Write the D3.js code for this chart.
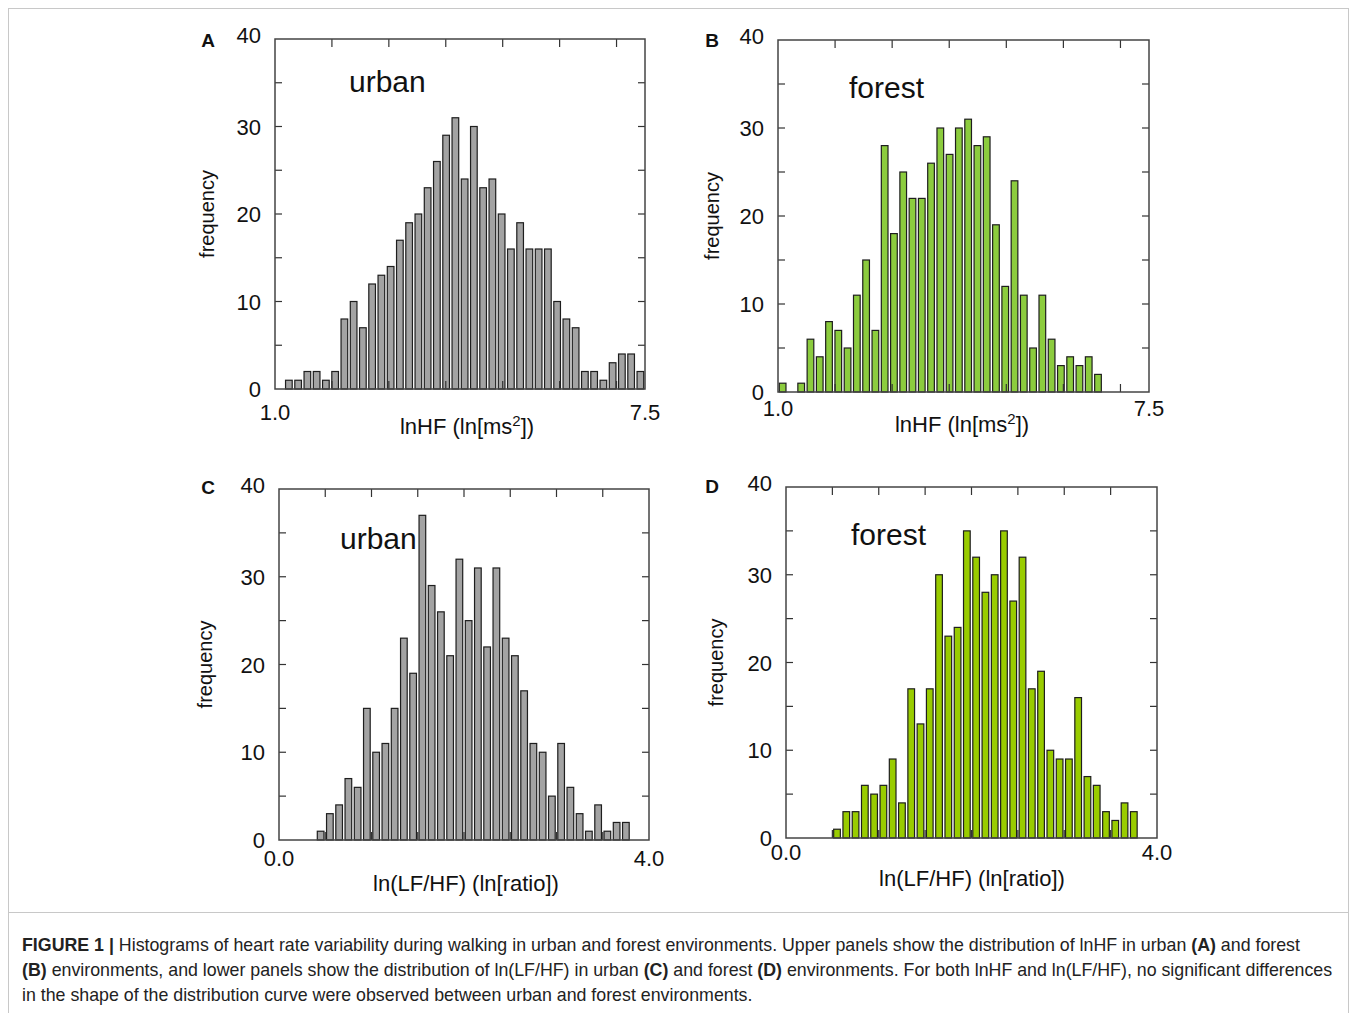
<!DOCTYPE html>
<html>
<head>
<meta charset="utf-8">
<script src="https://cdn.jsdelivr.net/npm/d3@7"></script>
<style>
  body { margin: 0; background: #fff; }
  svg text { font-family: "Liberation Sans", Arial, sans-serif; }
</style>
</head>
<body>
<div id="figure"></div>
<script>
// Section 1: the data, counts per bin (40 bins per panel)
var urbanHF = [0, 1, 1, 2, 2, 1, 2, 8, 10, 7, 12, 13, 14, 17, 19, 20, 23, 26, 29, 31,
  24, 30, 23, 24, 20, 16, 19, 16, 16, 16, 10, 8, 7, 2, 2, 1, 3, 4, 4, 2];
var forestHF = [1, 0, 1, 6, 4, 8, 7, 5, 11, 15, 7, 28, 18, 25, 22, 22, 26, 30, 27, 30,
  31, 28, 29, 19, 12, 24, 11, 5, 11, 6, 3, 4, 3, 4, 2, 0, 0, 0, 0, 0];
var urbanLFHF = [0, 0, 0, 0, 1, 3, 4, 7, 6, 15, 10, 11, 15, 23, 19, 37, 29, 26, 21, 32,
  25, 31, 22, 31, 23, 21, 17, 11, 10, 5, 11, 6, 3, 1, 4, 1, 2, 2, 0, 0];
var forestLFHF = [0, 0, 0, 0, 0, 1, 3, 3, 6, 5, 6, 9, 4, 17, 13, 17, 30, 23, 24, 35,
  32, 28, 30, 35, 27, 32, 17, 19, 10, 9, 9, 16, 7, 6, 3, 2, 4, 3, 0, 0];

var hfRange = [1.0, 7.5];
var lfhfRange = [0.0, 4.0];
var hfTicks = [2, 3, 4, 5, 6, 7];
var lfhfTicks = [0.5, 1, 1.5, 2, 2.5, 3, 3.5];
var yTickLabels = [0, 10, 20, 30, 40];
var yTickMarks = [5, 10, 15, 20, 25, 30, 35];

var width = 1355;
var height = 1013;

var svg = d3
  .select("#figure")
  .append("svg")
  .attr("width", width)
  .attr("height", height);

// outer box + caption divider
svg.append("rect")
  .attr("x", 8.5).attr("y", 8.5)
  .attr("width", 1340).attr("height", 1010)
  .attr("fill", "none").attr("stroke", "#c8c8c8").attr("stroke-width", 1);
svg.append("line")
  .attr("x1", 8.5).attr("x2", 1348.5)
  .attr("y1", 912.5).attr("y2", 912.5)
  .attr("stroke", "#c8c8c8").attr("stroke-width", 1);

// panel layout (frame box, label offsets)
var panels = [
  { letter: "A", data: urbanHF, domain: hfRange, ticks: hfTicks, fill: "#a3a3a3",
    box: [275, 39, 645, 389], title: "urban", titlePos: [349, 92],
    xlab: "lnHF (ln[ms", sup: true, xlabPos: [467, 434], tickOff: 31, letterPos: [208, 47], freqX: 207 },
  { letter: "B", data: forestHF, domain: hfRange, ticks: hfTicks, fill: "#8ccc3e",
    box: [778, 40, 1149, 392], title: "forest", titlePos: [849, 98],
    xlab: "lnHF (ln[ms", sup: true, xlabPos: [962, 432], tickOff: 24, letterPos: [712, 47], freqX: 712 },
  { letter: "C", data: urbanLFHF, domain: lfhfRange, ticks: lfhfTicks, fill: "#a3a3a3",
    box: [279, 489, 649, 840], title: "urban", titlePos: [340, 549],
    xlab: "ln(LF/HF) (ln[ratio])", sup: false, xlabPos: [466, 891], tickOff: 26, letterPos: [208, 494], freqX: 205 },
  { letter: "D", data: forestLFHF, domain: lfhfRange, ticks: lfhfTicks, fill: "#99cc00",
    box: [786, 487, 1157, 838], title: "forest", titlePos: [851, 545],
    xlab: "ln(LF/HF) (ln[ratio])", sup: false, xlabPos: [972, 886], tickOff: 22, letterPos: [712, 493], freqX: 716 }
];

panels.forEach(function(p) {
  var x0 = p.box[0], y0 = p.box[1], x1 = p.box[2], y1 = p.box[3];
  var g = svg.append("g");

  var xScale = d3.scaleLinear().domain(p.domain).range([x0, x1]);
  var yScale = d3.scaleLinear().domain([0, 40]).range([y1, y0]);
  var binW = (p.domain[1] - p.domain[0]) / p.data.length;

  // Bars
  var bins = p.data.map(function(v, i) {
    return { x: p.domain[0] + i * binW, v: v };
  }).filter(function(d) { return d.v > 0; });

  var pxW = xScale(p.domain[0] + binW) - xScale(p.domain[0]);
  var barW = pxW * 0.72;

  g.selectAll("rect.bar")
    .data(bins)
    .enter()
    .append("rect")
    .attr("class", "bar")
    .attr("x", function(d) { return xScale(d.x) + (pxW - barW) / 2; })
    .attr("y", function(d) { return yScale(d.v); })
    .attr("width", barW)
    .attr("height", function(d) { return yScale(0) - yScale(d.v); })
    .attr("fill", p.fill)
    .attr("stroke", "#1e1e1e")
    .attr("stroke-width", 1.2);

  // Ticks pointing inward: x on top/bottom, y on left/right
  var tickCol = "#333";
  p.ticks.forEach(function(t) {
    g.append("line")
      .attr("x1", xScale(t)).attr("x2", xScale(t))
      .attr("y1", y0).attr("y2", y0 + 8)
      .attr("stroke", tickCol).attr("stroke-width", 1.2);
    g.append("line")
      .attr("x1", xScale(t)).attr("x2", xScale(t))
      .attr("y1", y1).attr("y2", y1 - 8)
      .attr("stroke", tickCol).attr("stroke-width", 1.2);
  });
  yTickMarks.forEach(function(t) {
    g.append("line")
      .attr("x1", x0).attr("x2", x0 + 7)
      .attr("y1", yScale(t)).attr("y2", yScale(t))
      .attr("stroke", tickCol).attr("stroke-width", 1.2);
    g.append("line")
      .attr("x1", x1).attr("x2", x1 - 7)
      .attr("y1", yScale(t)).attr("y2", yScale(t))
      .attr("stroke", tickCol).attr("stroke-width", 1.2);
  });

  // frame
  g.append("rect")
    .attr("x", x0).attr("y", y0)
    .attr("width", x1 - x0).attr("height", y1 - y0)
    .attr("fill", "none")
    .attr("stroke", "#444")
    .attr("stroke-width", 1.5);

  // y tick labels
  yTickLabels.forEach(function(t) {
    g.append("text")
      .attr("x", x0 - 14)
      .attr("y", yScale(t) + (t === 40 ? 4 : 8))
      .attr("text-anchor", "end")
      .attr("font-size", 22)
      .attr("fill", "#111")
      .text(t);
  });

  // x end labels only
  p.domain.forEach(function(t) {
    g.append("text")
      .attr("x", xScale(t))
      .attr("y", y1 + p.tickOff)
      .attr("text-anchor", "middle")
      .attr("font-size", 22)
      .attr("fill", "#111")
      .text(t.toFixed(1));
  });

  // axis title
  var xl = g.append("text")
    .attr("x", p.xlabPos[0])
    .attr("y", p.xlabPos[1])
    .attr("text-anchor", "middle")
    .attr("font-size", 22)
    .attr("fill", "#111");
  xl.append("tspan").text(p.xlab);
  if (p.sup) {
    xl.append("tspan").attr("dy", -8).attr("font-size", 15).text("2");
    xl.append("tspan").attr("dy", 8).text("])");
  }

  g.append("text")
    .attr("transform", "translate(" + (p.freqX + 7) + "," + ((y0 + y1) / 2) + ")rotate(-90)")
    .attr("text-anchor", "middle")
    .attr("font-size", 20)
    .attr("fill", "#111")
    .text("frequency");

  // panel title inside the box
  g.append("text")
    .attr("x", p.titlePos[0])
    .attr("y", p.titlePos[1])
    .attr("font-family", "Open Sans")
    .attr("font-size", 30)
    .attr("fill", "#111")
    .text(p.title);

  // panel letter
  g.append("text")
    .attr("x", p.letterPos[0])
    .attr("y", p.letterPos[1])
    .attr("text-anchor", "middle")
    .attr("font-size", 19)
    .attr("font-weight", "bold")
    .attr("fill", "#111")
    .text(p.letter);
});

// Caption
var captionLines = [
  [["FIGURE 1 | ", true], ["Histograms of heart rate variability during walking in urban and forest environments. Upper panels show the distribution of lnHF in urban ", false], ["(A)", true], [" and forest", false]],
  [["(B)", true], [" environments, and lower panels show the distribution of ln(LF/HF) in urban ", false], ["(C)", true], [" and forest ", false], ["(D)", true], [" environments. For both lnHF and ln(LF/HF), no significant differences", false]],
  [["in the shape of the distribution curve were observed between urban and forest environments.", false]]
];

captionLines.forEach(function(line, i) {
  var t = svg.append("text")
    .attr("x", 22)
    .attr("y", 951 + i * 25)
    .attr("font-size", 17.8)
    .attr("fill", "#222");
  line.forEach(function(part) {
    t.append("tspan")
      .attr("font-weight", part[1] ? "bold" : "normal")
      .text(part[0]);
  });
});
</script>
</body>
</html>
